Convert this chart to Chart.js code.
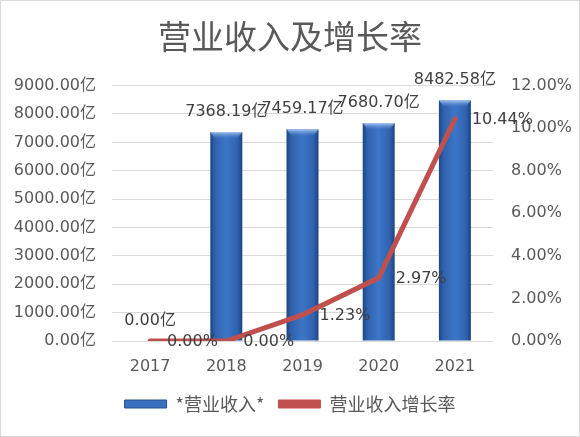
<!DOCTYPE html>
<html>
<head>
<meta charset="utf-8">
<script src="https://cdn.jsdelivr.net/npm/chart.js@4/dist/chart.umd.min.js"></script>
<style>
  html, body { margin: 0; padding: 0; background: #fff; }
  #wrap { width: 578px; height: 435px; border: 1px solid #d9d9d9; position: relative; }
</style>
</head>
<body>
<div id="wrap"><canvas id="chart" width="578" height="435"></canvas></div>
<script>
// 数据
const years = ['2017', '2018', '2019', '2020', '2021'];
const revenue = [0, 7368.19, 7459.17, 7680.70, 8482.58];   // 亿
const growth = [0, 0, 1.23, 2.97, 10.44];                   // %
const revTicks = [0, 9000, 1000];
const pctTicks = [0, 12, 2];

const FONT = '"DejaVu Sans", "Noto Sans CJK SC", sans-serif';
const CJK = '"Noto Sans CJK SC", "DejaVu Sans", sans-serif';
const GREY = '#595959';
const BAR_PCT = 0.42;

// 柱子渐变（按 x 轴位置算）
function barFill(ctx) {
  const chart = ctx.chart;
  const xs = chart.scales.x;
  if (!xs || !xs.width) return '#3a70c0';
  const cx = xs.getPixelForValue(ctx.dataIndex);
  const w = xs.width / years.length * BAR_PCT;
  const g = chart.ctx.createLinearGradient(cx - w / 2, 0, cx + w / 2, 0);
  g.addColorStop(0, '#1f4682');
  g.addColorStop(0.15, '#2f62ae');
  g.addColorStop(0.5, '#3d76c8');
  g.addColorStop(0.85, '#2f62ae');
  g.addColorStop(1, '#1c4380');
  return g;
}

// 数据标签 + 柱顶高光
const labels = {
  id: 'labels',
  afterDatasetsDraw(chart) {
    const c = chart.ctx;
    const bars = chart.getDatasetMeta(0).data;
    c.save();
    bars.forEach(b => {
      if (b.height < 4) return;
      const w = b.width, top = b.y;
      const g = c.createLinearGradient(0, top, 0, top + 7);
      g.addColorStop(0, 'rgba(175,205,245,0.95)');
      g.addColorStop(1, 'rgba(80,130,210,0)');
      c.fillStyle = g;
      c.beginPath();
      c.moveTo(b.x - w / 2, top);
      c.lineTo(b.x + w / 2, top);
      c.lineTo(b.x + w / 2 - 5, top + 7);
      c.lineTo(b.x - w / 2 + 5, top + 7);
      c.closePath();
      c.fill();
    });
    c.font = '16px ' + FONT;
    c.fillStyle = '#404040';
    c.textAlign = 'center';
    c.textBaseline = 'bottom';
    bars.forEach((b, i) => {
      c.fillText(revenue[i].toFixed(2) + '亿', b.x, b.y - 12);
    });
    c.textAlign = 'left';
    c.textBaseline = 'middle';
    chart.getDatasetMeta(1).data.forEach((p, i) => {
      c.fillText(growth[i].toFixed(2) + '%', p.x + 17, p.y + 1);
    });
    c.restore();
  }
};

new Chart(document.getElementById('chart'), {
  data: {
    labels: years,
    datasets: [
      {
        type: 'bar',
        label: '*营业收入*',
        data: revenue,
        yAxisID: 'y',
        backgroundColor: barFill,
        borderWidth: 0,
        barPercentage: BAR_PCT,
        categoryPercentage: 1,
        order: 2
      },
      {
        type: 'line',
        label: '营业收入增长率',
        data: growth,
        yAxisID: 'y1',
        borderColor: '#c0504d',
        backgroundColor: '#c0504d',
        borderWidth: 5,
        pointRadius: 0,
        tension: 0,
        borderCapStyle: 'round',
        order: 1
      }
    ]
  },
  options: {
    responsive: false,
    animation: false,
    layout: { padding: { left: 0, right: 0, top: 0, bottom: 13 } },
    plugins: {
      title: {
        display: true,
        text: '营业收入及增长率',
        color: GREY,
        font: { family: CJK, size: 33, weight: 'normal' },
        padding: { top: 16, bottom: 29 }
      },
      legend: {
        position: 'bottom',
        labels: {
          color: GREY,
          font: { family: CJK, size: 18 },
          boxWidth: 42,
          boxHeight: 8,
          useBorderRadius: true,
          borderRadius: 3,
          padding: 14,
          generateLabels(chart) {
            return chart.data.datasets.map((d, i) => ({
              text: d.label,
              fillStyle: i === 0 ? '#3a70c0' : '#c0504d',
              strokeStyle: i === 0 ? '#244f91' : '#c0504d',
              lineWidth: 1,
              fontColor: GREY,
              datasetIndex: i
            }));
          }
        }
      },
      tooltip: { enabled: false }
    },
    scales: {
      x: {
        grid: { display: false },
        border: { display: false },
        ticks: { color: GREY, font: { family: FONT, size: 16 }, padding: 8 },
        afterFit(s) { s.height = 40; }
      },
      y: {
        position: 'left',
        min: revTicks[0],
        max: revTicks[1],
        ticks: {
          stepSize: revTicks[2],
          color: GREY,
          font: { family: FONT, size: 16 },
          padding: 16,
          callback: v => v.toFixed(2) + '亿'
        },
        grid: { color: '#d9d9d9', lineWidth: 1, drawTicks: false },
        border: { display: false },
        afterFit(s) { s.width = 111; }
      },
      y1: {
        position: 'right',
        min: pctTicks[0],
        max: pctTicks[1],
        ticks: {
          stepSize: pctTicks[2],
          color: GREY,
          font: { family: FONT, size: 16 },
          padding: 18,
          callback: v => v.toFixed(2) + '%'
        },
        grid: { display: false, drawTicks: false },
        border: { display: false },
        afterFit(s) { s.width = 86; }
      }
    }
  },
  plugins: [labels]
});
</script>
</body>
</html>
